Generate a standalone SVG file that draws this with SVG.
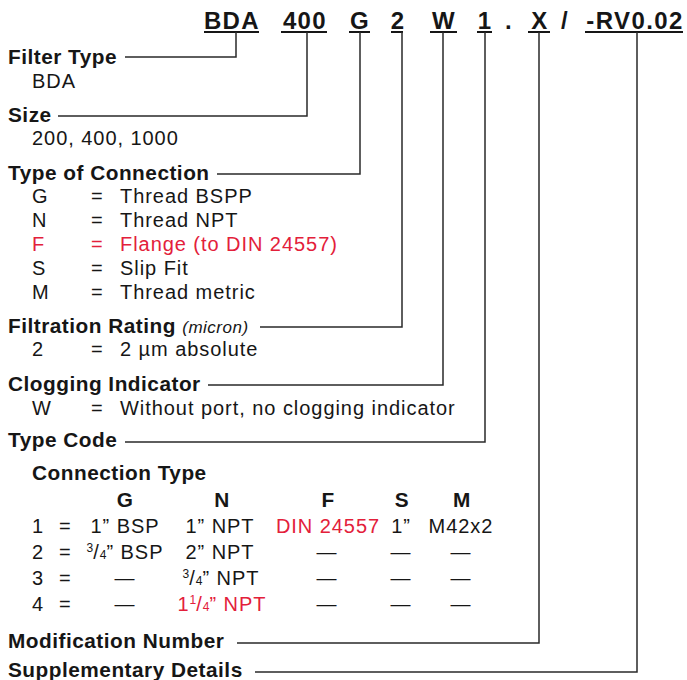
<svg xmlns="http://www.w3.org/2000/svg" width="687" height="680" viewBox="0 0 687 680">
<style>
text{font-family:"Liberation Sans",Arial,sans-serif;fill:#161616}
.h{font-size:24px;font-weight:bold;letter-spacing:1.4px;text-anchor:middle}
.b{font-size:20.8px;font-weight:bold;letter-spacing:0.5px}
.t{font-size:20px;letter-spacing:0.95px}
.m{text-anchor:middle}
.r{fill:#e3203a}
.i{font-size:17px;font-style:italic;font-weight:normal;letter-spacing:0.5px}
.s{font-size:12px;letter-spacing:0}
.u{stroke:#161616;stroke-width:2}
.c{fill:none;stroke:#2a2a2a;stroke-width:1.5}
</style>
<rect width="687" height="680" fill="#fff"/>
<g id="code">
<text class="h" x="232" y="29">BDA</text>
<text class="h" x="305" y="29">400</text>
<text class="h" x="360" y="29">G</text>
<text class="h" x="398" y="29">2</text>
<text class="h" x="444" y="29">W</text>
<text class="h" x="485" y="29">1</text>
<text class="h" x="509" y="29">.</text>
<text class="h" x="540" y="29">X</text>
<text class="h" x="565" y="29">/</text>
<text class="h" x="635" y="29">-RV0.02</text>
<line class="u" x1="204" y1="32" x2="259" y2="32"/>
<line class="u" x1="281" y1="32" x2="327" y2="32"/>
<line class="u" x1="349" y1="32" x2="370" y2="32"/>
<line class="u" x1="391" y1="32" x2="403" y2="32"/>
<line class="u" x1="430" y1="32" x2="457" y2="32"/>
<line class="u" x1="477" y1="32" x2="492" y2="32"/>
<line class="u" x1="528" y1="32" x2="550" y2="32"/>
<line class="u" x1="585" y1="32" x2="683" y2="32"/>
</g>
<g id="connectors">
<polyline class="c" points="125,57 236,57 236,32"/>
<polyline class="c" points="58,116 307,116 307,32"/>
<polyline class="c" points="217,174 360,174 360,32"/>
<polyline class="c" points="260,327 402,327 402,32"/>
<polyline class="c" points="208,385 443,385 443,32"/>
<polyline class="c" points="125,442 485,442 485,32"/>
<polyline class="c" points="237,643 539,643 539,32"/>
<polyline class="c" points="255,672 637,672 637,32"/>
</g>
<g id="filter-type">
<text class="b" x="8" y="64">Filter Type</text>
<text class="t" x="32" y="88">BDA</text>
</g>
<g id="size">
<text class="b" x="8" y="122">Size</text>
<text class="t" x="32" y="145">200, 400, 1000</text>
</g>
<g id="type-of-connection">
<text class="b" x="8" y="180">Type of Connection</text>
<text class="t" x="32" y="203">G</text><text class="t" x="91" y="203">=</text><text class="t" x="120" y="203">Thread BSPP</text>
<text class="t" x="32" y="227">N</text><text class="t" x="91" y="227">=</text><text class="t" x="120" y="227">Thread NPT</text>
<text class="t r" x="32" y="251">F</text><text class="t r" x="91" y="251">=</text><text class="t r" x="120" y="251">Flange (to DIN 24557)</text>
<text class="t" x="32" y="275">S</text><text class="t" x="91" y="275">=</text><text class="t" x="120" y="275">Slip Fit</text>
<text class="t" x="32" y="299">M</text><text class="t" x="91" y="299">=</text><text class="t" x="120" y="299">Thread metric</text>
</g>
<g id="filtration-rating">
<text class="b" x="8" y="333">Filtration Rating <tspan class="i">(micron)</tspan></text>
<text class="t" x="32" y="356">2</text><text class="t" x="91" y="356">=</text><text class="t" x="120" y="356">2 µm absolute</text>
</g>
<g id="clogging-indicator">
<text class="b" x="8" y="391">Clogging Indicator</text>
<text class="t" x="32" y="415">W</text><text class="t" x="91" y="415">=</text><text class="t" x="120" y="415">Without port, no clogging indicator</text>
</g>
<g id="type-code">
<text class="b" x="8" y="447">Type Code</text>
<text class="b" x="32" y="480">Connection Type</text>
<text class="b m" x="125" y="507">G</text>
<text class="b m" x="222" y="507">N</text>
<text class="b m" x="328" y="507">F</text>
<text class="b m" x="402" y="507">S</text>
<text class="b m" x="462" y="507">M</text>
<text class="t" x="32" y="533">1</text><text class="t" x="59" y="533">=</text>
<text class="t m" x="125" y="533">1” BSP</text>
<text class="t m" x="220" y="533">1” NPT</text>
<text class="t m r" x="328" y="533">DIN 24557</text>
<text class="t m" x="401" y="533">1”</text>
<text class="t m" x="461" y="533">M42x2</text>
<text class="t" x="32" y="559">2</text><text class="t" x="59" y="559">=</text>
<text class="t m" x="125" y="559"><tspan class="s" dy="-7">3</tspan><tspan dy="7">/</tspan><tspan class="s">4</tspan>” BSP</text>
<text class="t m" x="220" y="559">2” NPT</text>
<text class="t m" x="327" y="559">—</text>
<text class="t m" x="401" y="559">—</text>
<text class="t m" x="461" y="559">—</text>
<text class="t" x="32" y="585">3</text><text class="t" x="59" y="585">=</text>
<text class="t m" x="125" y="585">—</text>
<text class="t m" x="221" y="585"><tspan class="s" dy="-7">3</tspan><tspan dy="7">/</tspan><tspan class="s">4</tspan>” NPT</text>
<text class="t m" x="327" y="585">—</text>
<text class="t m" x="401" y="585">—</text>
<text class="t m" x="461" y="585">—</text>
<text class="t" x="32" y="611">4</text><text class="t" x="59" y="611">=</text>
<text class="t m" x="125" y="611">—</text>
<text class="t m r" x="222" y="611">1<tspan class="s" dy="-7">1</tspan><tspan dy="7">/</tspan><tspan class="s">4</tspan>” NPT</text>
<text class="t m" x="327" y="611">—</text>
<text class="t m" x="401" y="611">—</text>
<text class="t m" x="461" y="611">—</text>
</g>
<g id="modification-number">
<text class="b" x="8" y="648">Modification Number</text>
</g>
<g id="supplementary-details">
<text class="b" x="8" y="677">Supplementary Details</text>
</g>
</svg>
